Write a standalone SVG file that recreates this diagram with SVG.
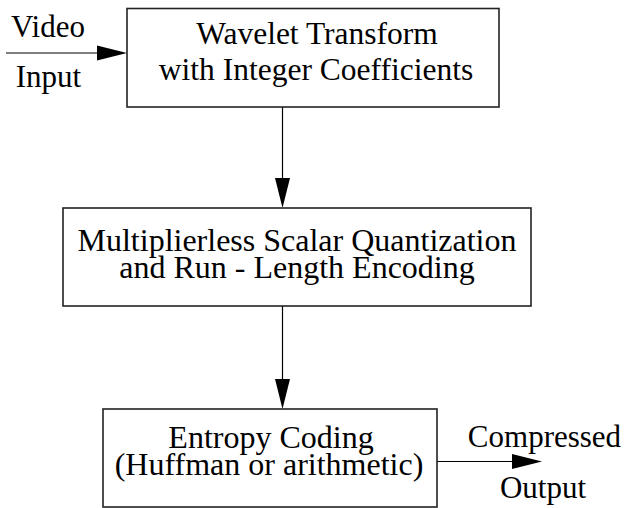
<svg xmlns="http://www.w3.org/2000/svg" width="626" height="508" viewBox="0 0 626 508">
<defs>
<style>
.box{fill:#fff;stroke:#222;stroke-width:1.6}
.t{font-family:"Liberation Serif","Times New Roman",serif;font-size:31px;fill:#000;text-anchor:middle}
.b{font-size:32px}
.ln{stroke:#000;stroke-width:1.2;fill:none}
.ah{fill:#000}
</style>
</defs>
<rect width="626" height="508" fill="#fff"/>
<g id="connectors">
<line class="ln" x1="6" y1="53" x2="98" y2="53"/>
<polygon class="ah" points="97,45.5 127,53 97,60.5"/>
<line class="ln" x1="282.5" y1="107" x2="282.5" y2="180"/>
<polygon class="ah" points="275,178 290,178 282.5,208"/>
<line class="ln" x1="282.5" y1="306" x2="282.5" y2="381"/>
<polygon class="ah" points="275,379 290,379 282.5,409"/>
<line class="ln" x1="437" y1="461.5" x2="514" y2="461.5"/>
<polygon class="ah" points="512,454 542,461.5 512,469"/>
</g>
<g id="label-video-input">
<text class="t" x="48" y="37">Video</text>
<text class="t" x="48.5" y="87">Input</text>
</g>
<g id="node-wavelet">
<rect class="box" x="127" y="8.5" width="372" height="98.5"/>
<text class="t" x="317" y="44" style="font-size:31.5px">Wavelet Transform</text>
<text class="t" x="316" y="80" style="font-size:31.5px">with Integer Coefficients</text>
</g>
<g id="node-quantization">
<rect class="box" x="63" y="208" width="468" height="98"/>
<text class="t b" x="297" y="251">Multiplierless Scalar Quantization</text>
<text class="t b" x="297" y="278">and Run - Length Encoding</text>
</g>
<g id="node-entropy">
<rect class="box" x="103" y="409" width="334" height="98"/>
<text class="t b" x="271" y="448">Entropy Coding</text>
<text class="t b" x="269" y="475">(Huffman or arithmetic)</text>
</g>
<g id="label-output">
<text class="t" x="544.5" y="447">Compressed</text>
<text class="t" x="543" y="498">Output</text>
</g>
</svg>
